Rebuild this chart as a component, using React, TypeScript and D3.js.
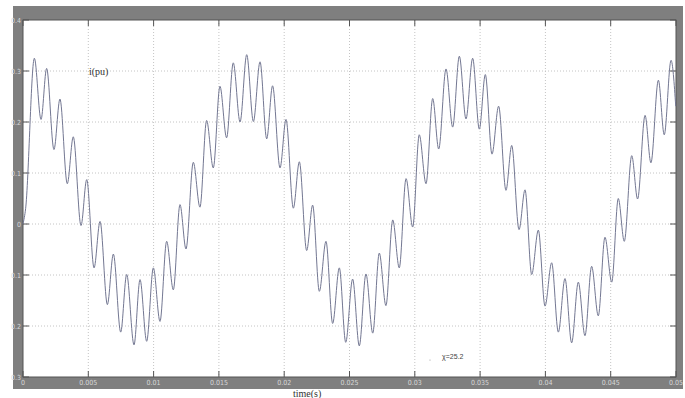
import React from "react";
import * as d3 from "d3";

// time (s) of the ripple extrema
const times: number[] = [
  0, 0.0002, 0.00087, 0.00138, 0.00181, 0.00237, 0.00283, 0.00339, 0.00385, 0.00444,
  0.00488, 0.00544, 0.0059, 0.00646, 0.00692, 0.00748, 0.00794, 0.0085, 0.00896, 0.00947,
  0.00998, 0.01049, 0.011, 0.01151, 0.01202, 0.01248, 0.01304, 0.01355, 0.01406, 0.01457,
  0.01508, 0.01559, 0.0161, 0.01662, 0.01713, 0.01764, 0.01815, 0.01866, 0.01911, 0.01968,
  0.02014, 0.0207, 0.02116, 0.02172, 0.02218, 0.02269, 0.0232, 0.02371, 0.02422, 0.02471,
  0.02524, 0.02575, 0.02626, 0.02678, 0.02728, 0.02779, 0.02831, 0.02881, 0.02933, 0.02984,
  0.03034, 0.03086, 0.03137, 0.03183, 0.03239, 0.0329, 0.03341, 0.03392, 0.03443, 0.03494,
  0.0354, 0.03591, 0.03642, 0.03698, 0.03742, 0.03798, 0.03844, 0.03895, 0.03946, 0.03997,
  0.04048, 0.04099, 0.0415, 0.04201, 0.04252, 0.04303, 0.04354, 0.04405, 0.04456, 0.04508,
  0.04558, 0.04604, 0.04661, 0.04706, 0.04763, 0.04808, 0.04865, 0.0491, 0.04962, 0.04998,
];

// current i(pu) at those times
const current: number[] = [
  0, 0.03, 0.325, 0.205, 0.305, 0.146, 0.245, 0.079, 0.171, -0.003,
  0.087, -0.086, 0.005, -0.158, -0.059, -0.212, -0.099, -0.237, -0.109, -0.23,
  -0.086, -0.191, -0.034, -0.129, 0.038, -0.049, 0.121, 0.033, 0.203, 0.11,
  0.27, 0.169, 0.316, 0.2, 0.332, 0.201, 0.318, 0.167, 0.271, 0.11,
  0.205, 0.031, 0.122, -0.052, 0.037, -0.132, -0.034, -0.195, -0.086, -0.232,
  -0.108, -0.239, -0.098, -0.214, -0.057, -0.16, 0.008, -0.086, 0.089, -0.006,
  0.175, 0.079, 0.246, 0.147, 0.304, 0.19, 0.329, 0.206, 0.325, 0.186,
  0.293, 0.137, 0.231, 0.066, 0.154, -0.011, 0.067, -0.099, -0.012, -0.161,
  -0.076, -0.212, -0.107, -0.233, -0.114, -0.219, -0.083, -0.18, -0.026, -0.114,
  0.05, -0.034, 0.134, 0.049, 0.213, 0.12, 0.282, 0.175, 0.321, 0.231,
];

const xTicks: number[] = [0, 0.005, 0.01, 0.015, 0.02, 0.025, 0.03, 0.035, 0.04, 0.045, 0.05];
const xTickLabels: string[] = ["0", "0.005", "0.01", "0.015", "0.02", "0.025", "0.03", "0.035", "0.04", "0.045", "0.05"];
const yTicks: number[] = [0.4, 0.3, 0.2, 0.1, 0, -0.1, -0.2, -0.3];
const yTickLabels: string[] = ["0.4", "0.3", "0.2", "0.1", "0", "0.1", "0.2", "0.3"];

export default function App() {
  const W = 685;
  const H = 398;
  const left = 23, right = 676, top = 20, bottom = 377;
  const x = d3.scaleLinear().domain([0, 0.05]).range([left, right]);
  const y = d3.scaleLinear().domain([-0.3, 0.4]).range([bottom, top]);
  const pts = times.map((t, i) => [t, current[i]] as [number, number]);
  const line = d3
    .line<[number, number]>()
    .x((d) => x(d[0]))
    .y((d) => y(d[1]))
    .curve(d3.curveMonotoneX);
  const tickLen = 6;
  return (
    <svg
      width={W}
      height={H}
      style={{ position: "absolute", left: 0, top: 0, background: "#fff" }}
    >
      <rect x={13} y={6} width={670} height={383} fill="#7f7f7f" />
      <rect x={left} y={top} width={right - left} height={bottom - top} fill="#fff" />
      {xTicks.map((t, i) => (
        <g key={"xg" + i}>
          {i > 0 && i < xTicks.length - 1 && (
            <line x1={x(t)} x2={x(t)} y1={top} y2={bottom} stroke="#c4c4c4" strokeWidth={1} strokeDasharray="1,2" />
          )}
          <line x1={x(t)} x2={x(t)} y1={bottom} y2={bottom - tickLen} stroke="#555" />
          <line x1={x(t)} x2={x(t)} y1={top} y2={top + tickLen} stroke="#555" />
          <text
            x={x(t)}
            y={385}
            textAnchor="middle"
            fontFamily="Liberation Sans Narrow, DejaVu Sans Condensed, sans-serif"
            fontSize={7}
            fill="#d8d8d8"
          >
            {xTickLabels[i]}
          </text>
        </g>
      ))}
      {yTicks.map((v, i) => (
        <g key={"yg" + i}>
          {i > 0 && i < yTicks.length - 1 && (
            <line x1={left} x2={right} y1={y(v)} y2={y(v)} stroke="#c4c4c4" strokeWidth={1} strokeDasharray="1,2" />
          )}
          <line x1={left} x2={left + tickLen} y1={y(v)} y2={y(v)} stroke="#555" />
          <line x1={right} x2={right - tickLen} y1={y(v)} y2={y(v)} stroke="#555" />
          <text
            x={21}
            y={y(v) + 2.5}
            textAnchor="end"
            fontFamily="Liberation Sans Narrow, DejaVu Sans Condensed, sans-serif"
            fontSize={7}
            fill="#d8d8d8"
          >
            {yTickLabels[i]}
          </text>
        </g>
      ))}
      <rect x={left} y={top} width={right - left} height={bottom - top} fill="none" stroke="#555" strokeWidth={1} />
      <path d={line(pts) || ""} fill="none" stroke="#737792" strokeWidth={1} />
      <text x={89} y={75} fontFamily="Liberation Serif, serif" fontSize={10} fill="#333">
        i(pu)
      </text>
      <text x={442} y={359} fontFamily="Liberation Sans Narrow, sans-serif" fontSize={7} fill="#444">
        χ=25.2
      </text>
      <circle cx={430} cy={360} r={0.6} fill="#999" />
      <text x={293} y={397} fontFamily="Liberation Serif, serif" fontSize={10} fill="#333">
        time(s)
      </text>
    </svg>
  );
}
